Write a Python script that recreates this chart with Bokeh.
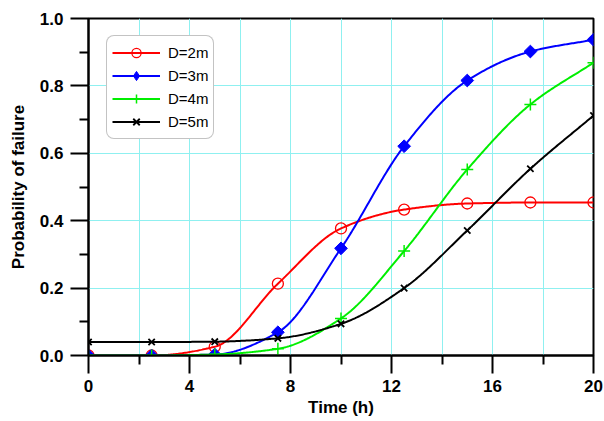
import numpy as np
from bokeh.plotting import figure
from bokeh.models import (Legend, LegendItem, FixedTicker, Range1d,
                          CustomJSTickFormatter)
from bokeh.embed import file_html
from bokeh.resources import INLINE

# Failure probability versus time for four depths
time_h = [0, 2.5, 5, 7.5, 10, 12.5, 15, 17.5, 20]
p_d2 = [0.0, 0.0, 0.026, 0.213, 0.377, 0.433, 0.451, 0.454, 0.454]
p_d3 = [0.0, 0.0, 0.003, 0.069, 0.318, 0.621, 0.816, 0.902, 0.937]
p_d4 = [0.0, 0.0, 0.003, 0.020, 0.110, 0.310, 0.552, 0.745, 0.869]
p_d5 = [0.040, 0.040, 0.041, 0.051, 0.094, 0.200, 0.371, 0.554, 0.712]
labels = ["D=2m", "D=3m", "D=4m", "D=5m"]
colors = ["#ff0000", "#0000ff", "#00ee00", "#000000"]

x_ticks = [0, 4, 8, 12, 16, 20]
y_ticks = [0.0, 0.2, 0.4, 0.6, 0.8, 1.0]


def pchip(x, y, xs):
    """Monotone cubic curve through the given points, for a smooth line."""
    x = np.asarray(x, float)
    y = np.asarray(y, float)
    h = np.diff(x)
    d = np.diff(y) / h
    m = np.zeros_like(y)
    for k in range(1, len(x) - 1):
        if d[k - 1] * d[k] > 0:
            w1 = 2 * h[k] + h[k - 1]
            w2 = h[k] + 2 * h[k - 1]
            m[k] = (w1 + w2) / (w1 / d[k - 1] + w2 / d[k])
    m[0] = d[0]
    m[-1] = d[-1]
    idx = np.clip(np.searchsorted(x, xs) - 1, 0, len(x) - 2)
    t = (xs - x[idx]) / h[idx]
    h00 = 2 * t**3 - 3 * t**2 + 1
    h10 = t**3 - 2 * t**2 + t
    h01 = -2 * t**3 + 3 * t**2
    h11 = t**3 - t**2
    return (h00 * y[idx] + h10 * h[idx] * m[idx]
            + h01 * y[idx + 1] + h11 * h[idx] * m[idx + 1])


FONT = "Liberation Sans"

p = figure(width=604, height=421, output_backend="svg", toolbar_location=None,
           x_range=Range1d(0, 20), y_range=Range1d(0, 1),
           min_border_left=88, min_border_right=11,
           min_border_top=18, min_border_bottom=66)
p.frame_width = 505
p.frame_height = 337
p.outline_line_color = "black"
p.outline_line_width = 2
p.outline_line_alpha = 1

xs = np.linspace(0, 20, 401)
series = [p_d2, p_d3, p_d4, p_d5]
items = []
for vals, lab, col in zip(series, labels, colors):
    ln = p.line(xs, pchip(time_h, vals, xs), line_color=col, line_width=2)
    if lab == "D=2m":
        mk = p.scatter(time_h, vals, marker="circle", size=11, fill_color=None,
                       line_color=col, line_width=1.3)
        key = mk
    elif lab == "D=3m":
        mk = p.scatter(time_h, vals, marker="square", angle=np.pi / 4, size=9,
                       fill_color=col, line_color=col)
        # the legend key ignores rotation, so it gets its own diamond glyph
        # (a single NaN point: drawn only as the legend swatch)
        key = p.scatter([np.nan], [np.nan], marker="diamond", size=12,
                        fill_color=col, line_color=col)
    elif lab == "D=4m":
        mk = p.scatter(time_h, vals, marker="cross", size=12, fill_color=None,
                       line_color=col, line_width=1.5)
        key = mk
    else:
        mk = p.scatter(time_h, vals, marker="x", size=9, fill_color=None,
                       line_color=col, line_width=1.8)
        key = mk
    items.append(LegendItem(label=lab, renderers=[ln, key]))

legend = Legend(items=items, location=(18, 216), border_line_color="#888888",
                border_line_width=1, background_fill_color="white",
                background_fill_alpha=1, label_text_font=FONT,
                label_text_color="black",
                label_text_font_size="15px", glyph_width=48, glyph_height=23,
                spacing=0, padding=5, margin=0, label_standoff=8)
if "border_radius" in Legend.properties():
    legend.border_radius = 8
p.add_layout(legend, "center")

p.xgrid.ticker = FixedTicker(ticks=list(range(0, 21, 2)))
p.ygrid.ticker = FixedTicker(ticks=[0.2, 0.4, 0.6, 0.8])
for g in (p.xgrid, p.ygrid):
    g.grid_line_color = "#8ff0f0"
    g.grid_line_width = 1

p.xaxis.ticker = FixedTicker(ticks=x_ticks, minor_ticks=[2, 6, 10, 14, 18])
p.yaxis.ticker = FixedTicker(ticks=y_ticks, minor_ticks=[0.1, 0.3, 0.5, 0.7, 0.9])
p.yaxis.formatter = CustomJSTickFormatter(code="return tick.toFixed(1);")

p.xaxis.axis_label = "Time (h)"
p.yaxis.axis_label = "Probability of failure"
for ax in (p.xaxis, p.yaxis):
    ax.axis_line_width = 2
    ax.axis_line_color = "black"
    ax.major_tick_line_color = "black"
    ax.minor_tick_line_color = "black"
    ax.major_tick_line_width = 2
    ax.minor_tick_line_width = 2
    ax.major_tick_out = 18
    ax.major_tick_in = 0
    ax.minor_tick_out = 9
    ax.minor_tick_in = 0
    ax.major_label_text_font = FONT
    ax.major_label_text_font_style = "bold"
    ax.major_label_text_font_size = "17px"
    ax.major_label_text_color = "black"
    ax.axis_label_text_font = FONT
    ax.axis_label_text_font_style = "bold"
    ax.axis_label_text_font_size = "17px"
    ax.axis_label_text_color = "black"
p.xaxis.major_label_standoff = 6
p.xaxis.axis_label_standoff = 3
p.yaxis.major_label_standoff = 7
p.yaxis.axis_label_standoff = 9

open("out.html", "w").write(file_html(p, INLINE))
